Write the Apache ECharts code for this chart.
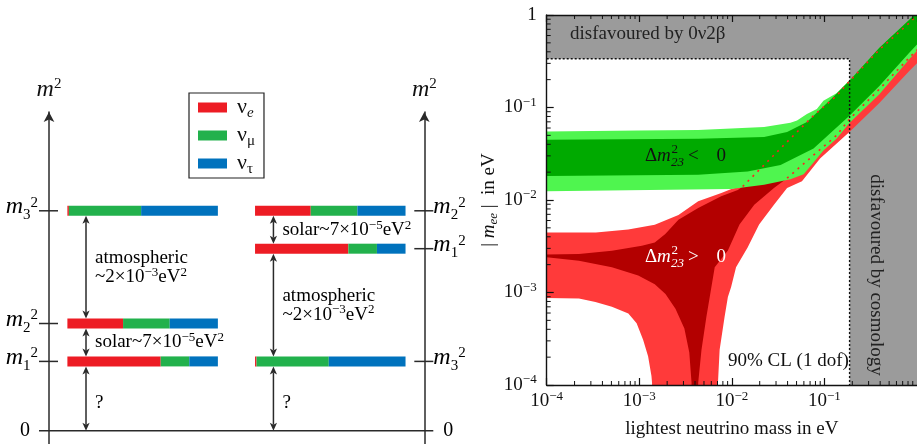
<!DOCTYPE html>
<html><head><meta charset="utf-8">
<script src="https://cdn.jsdelivr.net/npm/echarts@6.0.0/dist/echarts.min.js"></script>
<style>html,body{margin:0;padding:0;background:#fff}#c{width:917px;height:444px}</style>
</head><body><div id="c"></div>
<script>
// ================= LEFT PANEL: neutrino mass orderings =================
const flavourNames = ['nu_e', 'nu_mu', 'nu_tau'];
// flavour content of mass states 1,2,3 (fraction of each bar)
const nuE   = [0.62, 0.37, 0.01];
const nuMu  = [0.19, 0.31, 0.48];
const nuTau = [0.19, 0.32, 0.51];
// schematic m^2 levels of mass states 1,2,3
const normalLevels   = [21.4, 33.1, 67.9];
const invertedLevels = [56.2, 67.9, 21.4];
const massIndices = ['1', '2', '3'];
// splittings: [lower state (-1 = zero), upper state, label index]
const normalSplits   = [[-1, 0, 0], [0, 1, 1], [1, 2, 2]];
const invertedSplits = [[-1, 2, 0], [0, 1, 1], [2, 0, 2]];
const splitLabels = [
  '{t|?}',
  '{t|solar~7×10}{p|−5}{t|eV}{p|2}',
  '{t|atmospheric}\n{t|~2×10}{p|−3}{t|eV}{p|2}'
];

// ================= RIGHT PANEL: |m_ee| vs lightest mass =================
const limit0vbb = 0.336;    // eV, upper band
const limitCosmo = 0.187;   // eV, right band
// normal ordering, upper / lower edges of the inner region where it runs under the green band (drawn dotted)
const nhUpperDotted = [[1.31e-2,0.0140],[2.23e-2,0.0239],[3.95e-2,0.0425],[7.63e-2,0.0817],[0.135,0.1337],[0.1875,0.1935],[0.392,0.422],[0.82,0.815],[1.0,0.99]];
const nhLowerDotted = [[0.0395,0.0172],[0.0763,0.0305],[0.135,0.0499],[0.1875,0.0753],[0.392,0.158],[0.82,0.344],[1.0,0.42]];
// normal ordering, outer (light red) region
const nhOuterUpper = [[1e-4,0.00444],[3.4e-4,0.00444],[7.6e-4,0.00481],[1.47e-3,0.0054],[2.65e-3,0.0069],[4.33e-3,0.0097],[7.7e-3,0.0119],[1.02e-2,0.0133]];
const nhOuterLower = [[1.0,0.30],[0.82,0.246],[0.392,0.112],[0.1875,0.0548],[0.0897,0.0281],[0.0572,0.01597],[0.0395,0.01344],[0.0285,0.0089],[0.0197,0.00544],[0.0148,0.00307],[0.0111,0.001875],[0.00982,0.001146],[0.00906,0.000895],[0.00835,0.000547],[0.00738,0.000241],[0.00708,0.000106],[0.00708,1e-4],[1.374e-3,1e-4],[1.374e-3,1.06e-4],[1.354e-3,1.25e-4],[1.245e-3,2.04e-4],[1.10e-3,3.08e-4],[9.36e-4,4.64e-4],[7.62e-4,5.93e-4],[5.06e-4,7.0e-4],[3.36e-4,7.91e-4],[2.23e-4,8.59e-4],[1e-4,8.7e-4]];
// normal ordering, inner (dark red) region
const nhInnerUpper = [[1e-4,0.00258],[2.23e-4,0.00261],[5.06e-4,0.00283],[1.067e-3,0.0032],[1.47e-3,0.00347],[1.91e-3,0.0043],[2.65e-3,0.0061],[4.33e-3,0.0082],[7.67e-3,0.011],[1.16e-2,0.0128]];
const nhInnerLower = [[0.0285,0.01344],[0.01746,0.0089],[0.0121,0.00544],[0.00906,0.00285],[0.00653,0.001875],[0.00577,0.000895],[0.00531,0.000547],[0.0047,0.000241],[0.00433,0.000106],[0.00433,1e-4],[0.00367,1e-4],[3.67e-3,1.06e-4],[3.47e-3,2.25e-4],[3.07e-3,4.07e-4],[2.46e-3,6.67e-4],[1.92e-3,9.64e-4],[1.47e-3,1.23e-3],[9.74e-4,1.53e-3],[5.06e-4,1.875e-3],[2.23e-4,2.21e-3],[1e-4,2.40e-3]];
// inverted ordering, outer (light green) region
const ihOuterUpper = [[1e-4,0.0551],[1e-3,0.0565],[4.33e-3,0.0572],[0.0223,0.0615],[0.043,0.0683],[0.0506,0.0723],[0.0647,0.0852],[0.0828,0.0964],[0.0975,0.118],[0.135,0.1425],[0.1875,0.198],[0.392,0.443],[0.82,0.884],[1.0,1.07]];
const ihOuterLower = [[1.0,0.41],[0.82,0.33],[0.392,0.1395],[0.1875,0.0683],[0.135,0.046],[0.0975,0.0343],[0.0763,0.02548],[0.0597,0.01897],[0.043,0.01678],[0.0223,0.01465],[0.0098,0.01312],[1e-4,0.0124]];
// inverted ordering, inner (dark green) region
const ihInnerUpper = [[1e-4,0.0449],[4.33e-3,0.046],[0.0223,0.048],[0.0395,0.0543],[0.0647,0.0695],[0.1148,0.12],[0.1875,0.196],[0.392,0.443],[0.82,0.884],[1.0,1.07]];
const ihInnerLower = [[1.0,0.48],[0.82,0.389],[0.392,0.171],[0.1875,0.0817],[0.0763,0.036],[0.0336,0.0239],[0.0148,0.0203],[4.33e-3,0.0187],[1e-4,0.0182]];
const xTickExponents = [-4, -3, -2, -1, 0];

// ================= styling / layout =================
const SERIF = "'Liberation Serif','DejaVu Serif',serif";
const INK = '#2a2a2a';
const FLAVOUR_COLORS = ['#ed1c24', '#22b14c', '#0072bd'];
const COLUMN_X = [[4.9, 45.0], [54.9, 95.0]];
const ARROW_X = [9.86, 59.8];
const AXIS_X = [0, 100];
const BAR_HALF = 5;

const fracs = [nuE, nuMu, nuTau];
const levelsByOrdering = [normalLevels, invertedLevels];
const splitsByOrdering = [normalSplits, invertedSplits];

function flavourData(f) {
  const out = [];
  levelsByOrdering.forEach((lv, o) => {
    for (let k = 0; k < 3; k++) {
      let s = 0;
      for (let j = 0; j < f; j++) s += fracs[j][k];
      out.push([o, lv[k], s, s + fracs[f][k]]);
    }
  });
  return out;
}
function renderBar(params, api) {
  const o = api.value(0), lv = api.value(1), s = api.value(2), e = api.value(3);
  const [a, b] = COLUMN_X[o];
  const p0 = api.coord([a + (b - a) * s, lv]);
  const p1 = api.coord([a + (b - a) * e, lv]);
  return {type: 'rect', shape: {x: p0[0], y: p0[1] - BAR_HALF, width: p1[0] - p0[0], height: 2 * BAR_HALF},
          style: {fill: api.visual('color'), stroke: 'none'}};
}

const MASS_RICH = {
  m: {fontSize: 24, fontFamily: SERIF, fontStyle: 'italic', color: '#111', lineHeight: 24},
  sb: {fontSize: 15, fontFamily: SERIF, color: '#111', lineHeight: 15, padding: [17, 0, 0, 0]},
  sp: {fontSize: 15, fontFamily: SERIF, color: '#111', lineHeight: 15, padding: [0, 0, 8, 0]},
  z: {fontSize: 20, fontFamily: SERIF, color: '#111', lineHeight: 20}
};
const ANN_RICH = {
  t: {fontSize: 19, fontFamily: SERIF, color: '#222', lineHeight: 19},
  p: {fontSize: 13, fontFamily: SERIF, color: '#222', lineHeight: 13, padding: [0, 0, 9, 0]}
};

function tickData() {
  const out = [];
  levelsByOrdering.forEach((lv, o) => {
    for (let k = 0; k < 3; k++) out.push([o, lv[k], k]);
    out.push([o, 0, -1]);
  });
  return out;
}
function renderTick(params, api) {
  const o = api.value(0), lv = api.value(1), k = api.value(2);
  const p = api.coord([AXIS_X[o], lv]);
  const dir = o === 0 ? -1 : 1;
  const children = [];
  if (k < 0) {
    if (o === 0) {
      const q = api.coord([AXIS_X[1], 0]);
      children.push({type: 'line', shape: {x1: p[0] - 10, y1: p[1], x2: q[0] + 9, y2: q[1]}, style: {stroke: INK, lineWidth: 1.5}});
    }
    children.push({type: 'text', x: p[0] + dir * 19, y: p[1],
      style: {text: '{z|0}', rich: MASS_RICH, align: o === 0 ? 'right' : 'left', verticalAlign: 'middle'}});
  } else {
    children.push({type: 'line', shape: {x1: p[0] - 10, y1: p[1], x2: p[0] + 9, y2: p[1]}, style: {stroke: INK, lineWidth: 1.5}});
    children.push({type: 'text', x: p[0] + dir * (o === 0 ? 11 : 9), y: p[1] - 4,
      style: {text: '{m|m}{sb|' + massIndices[k] + '}{sp|2}', rich: MASS_RICH, align: o === 0 ? 'right' : 'left', verticalAlign: 'middle'}});
  }
  return {type: 'group', children};
}

function arrowData() {
  const out = [];
  splitsByOrdering.forEach((sp, o) => {
    const lv = levelsByOrdering[o];
    sp.forEach(([lo, hi, li]) => out.push([o, lo < 0 ? 0 : lv[lo], lv[hi], lo < 0 ? 0 : 1, li]));
  });
  return out;
}
function renderArrow(params, api) {
  const o = api.value(0), lo = api.value(1), hi = api.value(2), loBar = api.value(3), li = api.value(4);
  const pLo = api.coord([ARROW_X[o], lo]), pHi = api.coord([ARROW_X[o], hi]);
  const x = pLo[0];
  const yLo = pLo[1] - (loBar ? BAR_HALF : 0);
  const yHi = pHi[1] + BAR_HALF;
  const head = 8, hw = 3.6;
  const midY = (pLo[1] + pHi[1]) / 2 + (li === 0 ? 7 : 0);
  return {type: 'group', children: [
    {type: 'line', shape: {x1: x, y1: yLo - head + 2, x2: x, y2: yHi + head - 2}, style: {stroke: INK, lineWidth: 1.5}},
    {type: 'polygon', shape: {points: [[x, yHi], [x - hw, yHi + head], [x, yHi + head - 2], [x + hw, yHi + head]]}, style: {fill: INK}},
    {type: 'polygon', shape: {points: [[x, yLo], [x - hw, yLo - head], [x, yLo - head + 2], [x + hw, yLo - head]]}, style: {fill: INK}},
    {type: 'text', x: x + 9, y: midY, style: {text: splitLabels[li], rich: ANN_RICH, align: 'left', verticalAlign: 'middle'}}
  ]};
}

// ---------- right panel helpers ----------
function polygonSeries(pts, fill) {
  return {type: 'custom', xAxisIndex: 1, yAxisIndex: 2, coordinateSystem: 'cartesian2d', clip: true, silent: true,
    data: [pts[0]],
    renderItem: (params, api) => ({type: 'polygon', shape: {points: pts.map(p => api.coord(p))}, style: {fill, stroke: 'none'}})};
}
function dottedSeries(pts, color, dash, width) {
  return {type: 'custom', xAxisIndex: 1, yAxisIndex: 2, coordinateSystem: 'cartesian2d', clip: true, silent: true,
    data: [pts[0]],
    renderItem: (params, api) => ({type: 'polyline', shape: {points: pts.map(p => api.coord(p))},
      style: {stroke: color, lineWidth: width, lineDash: dash, fill: 'none'}})};
}
const grayRegion = [[1e-4, 1], [1, 1], [1, 1e-4], [limitCosmo, 1e-4], [limitCosmo, limit0vbb], [1e-4, limit0vbb]];
const limitLine = [[1e-4, limit0vbb], [limitCosmo, limit0vbb], [limitCosmo, 1e-4]];

const minorTicks = [];
xTickExponents.slice(0, -1).forEach(e => { for (let k = 2; k <= 9; k++) minorTicks.push([k * Math.pow(10, e), k * Math.pow(10, e)]); });
function renderMinor(params, api) {
  const v = api.value(0);
  const b = api.coord([v, 1e-4]), t = api.coord([v, 1]), l = api.coord([1e-4, v]);
  const st = {stroke: '#111', lineWidth: 1};
  return {type: 'group', children: [
    {type: 'line', shape: {x1: b[0], y1: b[1], x2: b[0], y2: b[1] - 4}, style: st},
    {type: 'line', shape: {x1: t[0], y1: t[1], x2: t[0], y2: t[1] + 4}, style: st},
    {type: 'line', shape: {x1: l[0], y1: l[1], x2: l[0] + 4, y2: l[1]}, style: st}
  ]};
}

const TICK_RICH = {
  b: {fontSize: 19, fontFamily: SERIF, color: '#111', lineHeight: 19},
  p: {fontSize: 13, fontFamily: SERIF, color: '#111', lineHeight: 13, padding: [0, 0, 10, 0]}
};
function powLabel(v) {
  const e = Math.round(Math.log10(v));
  return e === 0 ? '{b|1}' : '{b|10}{p|−' + (-e) + '}';
}

function deltaLabel(x0, y0, rel, color) {
  const t = (dx, dy, text, size, italic) => ({type: 'text', x: x0 + dx, y: y0 + dy, z: 100, silent: true,
    style: {text, fill: color, fontSize: size, fontFamily: SERIF,
    fontStyle: italic ? 'italic' : 'normal', align: 'left', verticalAlign: 'middle'}});
  return [t(0, 0, 'Δ', 19), t(12, 0, 'm', 19, true), t(26.5, -6.5, '2', 13), t(26, 6, '23', 13, true),
          t(43, 0, rel, 19), t(71.5, 0, '0', 19)];
}

const axisLineStyle = {color: '#111', width: 1.4};
const M2_RICH = {m: {fontSize: 24, fontFamily: SERIF, fontStyle: 'italic', color: '#111', lineHeight: 24},
                 s: {fontSize: 15, fontFamily: SERIF, color: '#111', lineHeight: 15, padding: [0, 0, 12, 0]}};
const option = {
  animation: false,
  textStyle: {fontFamily: SERIF},
  grid: [
    {left: 49, right: 492.7, top: 112, bottom: -1},
    {left: 546.7, right: -4, top: 15, bottom: 55}
  ],
  legend: {
    data: flavourNames, orient: 'vertical', left: 189, top: 93, itemWidth: 29, itemHeight: 10, itemGap: 1,
    padding: [1, 9, 1, 9], borderColor: '#222', borderWidth: 1.2, icon: 'rect', selectedMode: false,
    formatter: n => ({nu_e: '{n|ν}{s|e}', nu_mu: '{n|ν}{u|μ}', nu_tau: '{n|ν}{u|τ}'}[n]),
    textStyle: {rich: {
      n: {fontSize: 22, fontFamily: SERIF, color: '#111', lineHeight: 22, padding: [0, 0, 0, 5]},
      s: {fontSize: 15, fontFamily: SERIF, fontStyle: 'italic', color: '#111', lineHeight: 15, padding: [12, 0, 0, 0]},
      u: {fontSize: 15, fontFamily: SERIF, color: '#111', lineHeight: 15, padding: [12, 0, 0, 0]}
    }}
  },
  xAxis: [
    {gridIndex: 0, type: 'value', min: 0, max: 100, show: false},
    {gridIndex: 1, type: 'log', logBase: 10, min: 1e-4, max: 1, position: 'bottom', z: 10,
      axisLine: {lineStyle: axisLineStyle}, axisTick: {inside: true, length: 7, lineStyle: {color: '#111', width: 1.2}},
      axisLabel: {formatter: powLabel, margin: 7, showMaxLabel: false, rich: TICK_RICH, color: '#111'},
      splitLine: {show: false},
      name: 'lightest neutrino mass in eV', nameLocation: 'middle', nameGap: 35,
      nameTextStyle: {fontSize: 19, fontFamily: SERIF, color: '#111'}},
    {gridIndex: 1, type: 'log', logBase: 10, min: 1e-4, max: 1, position: 'top', z: 10,
      axisLine: {lineStyle: axisLineStyle}, axisTick: {inside: true, length: 7, lineStyle: {color: '#111', width: 1.2}},
      axisLabel: {show: false}, splitLine: {show: false}}
  ],
  yAxis: [
    {gridIndex: 0, type: 'value', min: -4.1, max: 98.4, position: 'left',
      axisLine: {show: true, symbol: ['none', 'arrow'], symbolSize: [8, 10], lineStyle: {color: INK, width: 1.5}},
      axisTick: {show: false}, axisLabel: {show: false}, splitLine: {show: false},
      name: '{m|m}{s|2}', nameLocation: 'end', nameGap: 10, nameTextStyle: {rich: M2_RICH}},
    {gridIndex: 0, type: 'value', min: -4.1, max: 98.4, position: 'right',
      axisLine: {show: true, symbol: ['none', 'arrow'], symbolSize: [8, 10], lineStyle: {color: INK, width: 1.5}},
      axisTick: {show: false}, axisLabel: {show: false}, splitLine: {show: false},
      name: '{m|m}{s|2}', nameLocation: 'end', nameGap: 10, nameTextStyle: {rich: M2_RICH}},
    {gridIndex: 1, type: 'log', logBase: 10, min: 1e-4, max: 1, position: 'left', z: 10,
      axisLine: {lineStyle: axisLineStyle}, axisTick: {inside: true, length: 7, lineStyle: {color: '#111', width: 1.2}},
      axisLabel: {formatter: powLabel, margin: 10, rich: TICK_RICH, color: '#111'},
      splitLine: {show: false},
      name: '{t|| }{m|m}{s|ee}{t| |  in eV}', nameLocation: 'middle', nameGap: 24,
      nameTextStyle: {rich: {
        t: {fontSize: 19, fontFamily: SERIF, color: '#111', lineHeight: 19},
        m: {fontSize: 19, fontFamily: SERIF, fontStyle: 'italic', color: '#111', lineHeight: 19},
        s: {fontSize: 13, fontFamily: SERIF, fontStyle: 'italic', color: '#111', lineHeight: 13, padding: [9, 0, 0, 0]}
      }}}
  ],
  graphic: [
    {type: 'text', x: 570, y: 34, z: 100, silent: true, style: {text: 'disfavoured by 0ν2β', fill: '#222', fontSize: 19, fontFamily: SERIF, align: 'left', verticalAlign: 'middle'}},
    {type: 'text', x: 876, y: 275, z: 100, rotation: -Math.PI / 2, silent: true, style: {text: 'disfavoured by cosmology', fill: '#222', fontSize: 19, fontFamily: SERIF, align: 'center', verticalAlign: 'middle'}},
    {type: 'text', x: 728, y: 361.5, z: 100, silent: true, style: {text: '90% CL (1 dof)', fill: '#111', fontSize: 19, fontFamily: SERIF, align: 'left', verticalAlign: 'middle'}},
    ...deltaLabel(645, 156.3, '<', '#111'),
    ...deltaLabel(645, 257.3, '>', '#ffffff')
  ],
  series: [
    ...flavourNames.map((n, f) => ({name: n, type: 'custom', xAxisIndex: 0, yAxisIndex: 0, coordinateSystem: 'cartesian2d',
      itemStyle: {color: FLAVOUR_COLORS[f]}, silent: true, data: flavourData(f), renderItem: renderBar})),
    {type: 'custom', xAxisIndex: 0, yAxisIndex: 0, coordinateSystem: 'cartesian2d', clip: false, silent: true, data: tickData(), renderItem: renderTick},
    {type: 'custom', xAxisIndex: 0, yAxisIndex: 0, coordinateSystem: 'cartesian2d', clip: false, silent: true, data: arrowData(), renderItem: renderArrow},
    polygonSeries(grayRegion, '#9b9b9b'),
    polygonSeries(nhOuterUpper.concat(nhUpperDotted, nhOuterLower), '#ff3a3a'),
    polygonSeries(nhInnerUpper.concat(nhUpperDotted, nhLowerDotted.slice().reverse(), nhInnerLower), '#b30000'),
    polygonSeries(ihOuterUpper.concat(ihOuterLower), '#4ff54f'),
    polygonSeries(ihInnerUpper.concat(ihInnerLower), '#00aa00'),
    dottedSeries(nhUpperDotted, '#ff2020', [2, 5], 1.6),
    dottedSeries(nhLowerDotted, '#ff2020', [2, 5], 1.6),
    dottedSeries(limitLine, '#111', [2, 2], 1.4),
    {type: 'custom', xAxisIndex: 1, yAxisIndex: 2, coordinateSystem: 'cartesian2d', clip: false, silent: true, z: 10,
      data: minorTicks, renderItem: renderMinor}
  ]
};
const chart = echarts.init(document.getElementById('c'));
chart.setOption(option);
</script>
</body></html>
